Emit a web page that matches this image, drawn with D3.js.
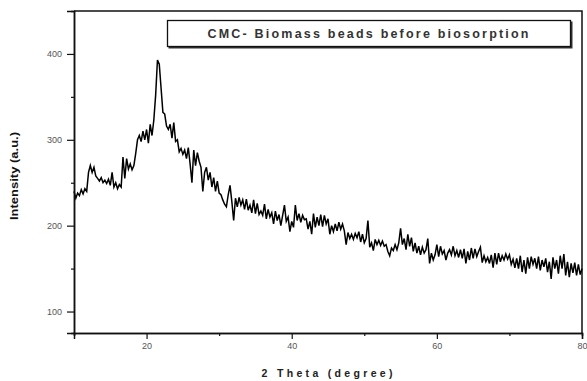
<!DOCTYPE html>
<html>
<head>
<meta charset="utf-8">
<script src="https://cdn.jsdelivr.net/npm/d3@7"></script>
<style>
  body { margin: 0; background: #fff; }
  svg { display: block; font-family: "Liberation Sans", Arial, sans-serif; }
</style>
</head>
<body>
<svg id="drawing_region"></svg>
<script>
// XRD pattern, one value every 0.25 degree from 10 to 80
const theta_start = 10;
const theta_step = 0.25;
const intensity = [
    240, 232, 238, 235, 242, 237, 243, 240, 262, 270, 262, 268, 258, 255, 252, 256, 250, 253, 249, 254,
    247, 262, 245, 250, 243, 248, 245, 280, 255, 278, 266, 272, 265, 270, 284, 300, 305, 298, 310, 300,
    312, 296, 318, 305, 323, 352, 393, 388, 360, 332, 330, 316, 312, 318, 302, 320, 298, 300, 286, 290,
    283, 288, 278, 291, 272, 250, 288, 270, 285, 275, 268, 240, 262, 268, 253, 262, 245, 256, 240, 252,
    238, 236, 230, 225, 222, 236, 247, 228, 206, 232, 222, 233, 224, 230, 219, 231, 218, 224, 215, 230,
    214, 226, 213, 217, 212, 225, 208, 219, 210, 215, 202, 217, 206, 213, 200, 212, 224, 205, 210, 193,
    205, 198, 224, 206, 214, 204, 212, 207, 208, 196, 205, 190, 214, 198, 210, 200, 213, 199, 212, 202,
    208, 190, 200, 193, 202, 194, 204, 196, 202, 194, 178, 192, 185, 190, 184, 191, 186, 193, 181, 190,
    180, 185, 206, 175, 180, 171, 184, 178, 183, 177, 182, 176, 178, 170, 165, 174, 171, 178, 172, 180,
    197, 178, 185, 172, 190, 176, 186, 170, 180, 168, 176, 166, 175, 168, 172, 185, 156, 168, 160, 166,
    178, 164, 176, 167, 171, 160, 168, 172, 166, 176, 165, 171, 163, 172, 162, 173, 156, 170, 160, 174,
    162, 173, 164, 170, 175, 157, 165, 158, 163, 156, 166, 151, 168, 155, 168, 158, 165, 160, 167, 161,
    166, 155, 161, 151, 162, 150, 165, 146, 160, 144, 163, 150, 164, 155, 162, 150, 164, 148, 160, 152,
    162, 146, 158, 138, 163, 150, 160, 144, 165, 150, 167, 142, 158, 140, 156, 145, 157, 142, 155, 143,
    150
];

const x_domain = [10, 80];
const y_domain = [75, 450];
const x_major = [20, 40, 60, 80];
const x_minor = [10, 30, 50, 70];
const y_major = [100, 200, 300, 400];
const y_minor = [150, 250, 350];
const legend_label = "CMC- Biomass beads before biosorption";
const x_title = "2 Theta (degree)";
const y_title = "Intensity (a.u.)";

const data = intensity.map( (v, i) => ({ x: theta_start + i * theta_step, y: v }) );

class XrdChart {

    constructor( config, data ) {
        this.config = {
            parent: config.parent,
            width: config.width || 587,
            height: config.height || 381,
            margin: config.margin || {top:11, right:5, bottom:48, left:74}
        }
        this.data = data;
        this.init();
    }

    init() {
        let self = this;

        self.svg = d3.select( self.config.parent )
            .attr('width', self.config.width)
            .attr('height', self.config.height);

        self.chart = self.svg.append('g')
            .attr('transform', `translate(${self.config.margin.left}, ${self.config.margin.top})`);

        self.inner_width = self.config.width - self.config.margin.left - self.config.margin.right;
        self.inner_height = self.config.height - self.config.margin.top - self.config.margin.bottom;

        self.xscale = d3.scaleLinear()
            .range( [0, self.inner_width] );

        self.yscale = d3.scaleLinear()
            .range( [self.inner_height, 0] );
    }

    update() {
        let self = this;
        self.xscale.domain( x_domain );
        self.yscale.domain( y_domain );
        self.render();
    }

    render() {
        let self = this;
        const w = self.inner_width, h = self.inner_height;

        // frame (top and right)
        self.chart.append('path')
            .attr('d', `M0,0H${w}V${h}`)
            .attr('fill', 'none')
            .attr('stroke', '#111')
            .attr('stroke-width', 1.5);

        // curve
        const line = d3.line()
            .x( d => self.xscale( d.x ) )
            .y( d => self.yscale( d.y ) );

        self.chart.append('path')
            .datum( self.data )
            .attr('d', line)
            .attr('fill', 'none')
            .attr('stroke', '#000')
            .attr('stroke-width', 1.5);

        // x axis
        const xg = self.chart.append('g')
            .attr('transform', `translate(0, ${h})`);
        xg.call( d3.axisBottom( self.xscale ).tickValues( x_major ).tickSize(6).tickPadding(4) );
        xg.append('g').call( d3.axisBottom( self.xscale ).tickValues( x_minor ).tickSize(3).tickFormat('') );

        // y axis
        const yg = self.chart.append('g');
        yg.call( d3.axisLeft( self.yscale ).tickValues( y_major ).tickSize(7).tickPadding(5) );
        yg.append('g').call( d3.axisLeft( self.yscale ).tickValues( y_minor ).tickSize(3).tickFormat('') );

        self.svg.selectAll('.domain').attr('stroke', '#111').attr('stroke-width', 1.5);
        self.svg.selectAll('.tick line').attr('stroke', '#111').attr('stroke-width', 1.2);
        self.svg.selectAll('.tick text')
            .attr('fill', '#555')
            .style('font-size', '9px')
            .style('font-family', '"Liberation Sans", Arial, sans-serif');

        // axis titles
        self.svg.append('text')
            .attr('x', 327)
            .attr('y', 377)
            .attr('text-anchor', 'middle')
            .attr('textLength', 131)
            .attr('lengthAdjust', 'spacing')
            .style('font-size', '10.5px')
            .style('font-weight', 'bold')
            .attr('fill', '#222')
            .text( x_title );

        self.svg.append('text')
            .attr('transform', 'translate(17.5, 176) rotate(-90)')
            .attr('text-anchor', 'middle')
            .attr('textLength', 88)
            .attr('lengthAdjust', 'spacingAndGlyphs')
            .style('font-size', '11px')
            .style('font-weight', 'bold')
            .attr('fill', '#111')
            .text( y_title );

        // legend box
        const lg = self.svg.append('g');
        lg.append('rect')
            .attr('x', 168.5).attr('y', 21.5)
            .attr('width', 404).attr('height', 27)
            .attr('fill', '#333');
        lg.append('rect')
            .attr('x', 167.5).attr('y', 20.5)
            .attr('width', 403).attr('height', 26)
            .attr('fill', '#fff')
            .attr('stroke', '#111')
            .attr('stroke-width', 1.3);
        lg.append('text')
            .attr('x', 368)
            .attr('y', 37.5)
            .attr('text-anchor', 'middle')
            .attr('textLength', 321)
            .attr('lengthAdjust', 'spacing')
            .style('font-size', '12.5px')
            .style('font-weight', '600')
            .attr('fill', '#333')
            .text( legend_label );
    }
}

const xrd_chart = new XrdChart( { parent: '#drawing_region', width: 587, height: 381 }, data );
xrd_chart.update();
</script>
</body>
</html>
